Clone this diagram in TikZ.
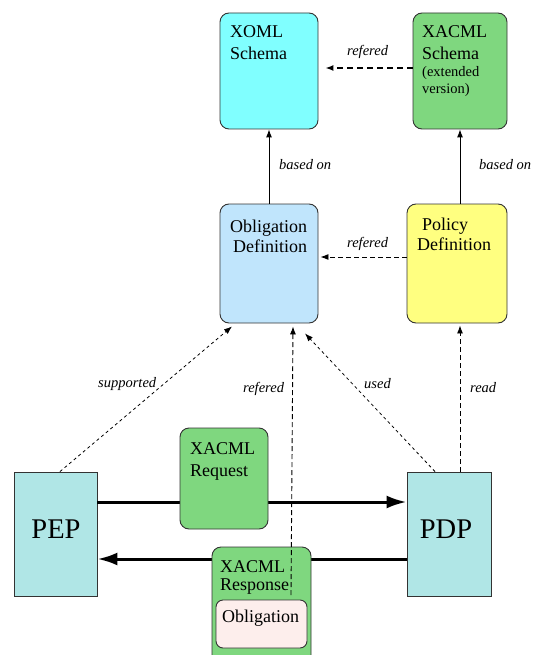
\documentclass[tikz,border=0pt]{standalone}
\usepackage{fontspec}
\setmainfont{Liberation Serif}
\usetikzlibrary{arrows.meta}
\definecolor{xomlC}{HTML}{80FFFF}
\definecolor{greenC}{HTML}{7FD77F}
\definecolor{oblC}{HTML}{C0E5FC}
\definecolor{polC}{HTML}{FFFF80}
\definecolor{pepC}{HTML}{B0E6E6}
\definecolor{obligC}{HTML}{FDEEEC}
\definecolor{edgeC}{HTML}{333333}
\tikzset{
  box/.style={draw=edgeC, line width=0.9pt, rounded corners=9pt, inner sep=0pt},
  sqbox/.style={draw=edgeC, line width=0.9pt, inner sep=0pt},
  btxt/.style={anchor=base west, inner sep=0pt, font=\fontsize{18}{21}\selectfont},
  stxt/.style={anchor=base west, inner sep=0pt, font=\fontsize{14.5}{17}\selectfont},
  lbl/.style={anchor=base west, inner sep=0pt, font=\fontsize{14.5}{16}\selectfont\itshape},
  thin/.style={line width=0.9pt, -{Latex[length=8pt,width=6pt]}},
  dsh/.style={line width=0.9pt, dash pattern=on 5pt off 3pt, -{Latex[length=8pt,width=6pt]}},
  fdsh/.style={line width=0.8pt, dash pattern=on 3pt off 3pt, -{Latex[length=8pt,width=6pt]}},
  thick/.style={line width=3pt, -{Latex[length=20pt,width=13pt]}},
}
\begin{document}
\begin{tikzpicture}[x=1pt,y=-1pt]
\useasboundingbox (0,0) rectangle (535,655);
\clip (0,0) rectangle (535,655);
% boxes
\node[box, fill=xomlC, minimum width=98pt, minimum height=116pt] (xoml) at (269,71) {};
\node[box, fill=greenC, minimum width=94pt, minimum height=116pt] (xacmlS) at (460,71) {};
\node[box, fill=oblC, minimum width=98pt, minimum height=119pt] (obl) at (269,263.5) {};
\node[box, fill=polC, minimum width=100pt, minimum height=119pt] (pol) at (457,263.5) {};
\node[sqbox, fill=pepC, minimum width=83pt, minimum height=124pt] (pep) at (55.5,534) {};
\node[sqbox, fill=pepC, minimum width=84pt, minimum height=124pt] (pdp) at (449,534) {};
% thick message arrows (behind the message boxes)
\draw[thick] ([yshift=32pt]pep.east) -- ([yshift=32pt]pdp.west);
\draw[thick] ([yshift=-25pt]pdp.west) -- ([yshift=-25pt]pep.east);
\node[box, fill=greenC, minimum width=88pt, minimum height=101pt] (req) at (224,478.5) {};
\node[box, fill=greenC, minimum width=99pt, minimum height=123pt] (resp) at (261.5,608.5) {};
\node[box, rounded corners=7pt, fill=obligC, minimum width=91pt, minimum height=48pt] (oblig) at (261.5,624) {};
% texts
\node[btxt] (t1) at (230,38) {XOML};
\node[btxt] (t2) at (230,60) {Schema};
\node[btxt] (t3) at (422,38) {XACML};
\node[btxt] (t4) at (422,60) {Schema};
\node[stxt] (t5) at (422,77) {(extended};
\node[stxt] (t6) at (422,94) {version)};
\node[btxt] (t7) at (230,232) {Obligation};
\node[btxt] (t8) at (233,252) {Definition};
\node[btxt] (t9) at (422,230) {Policy};
\node[btxt] (t10) at (417,250) {Definition};
\node[btxt] (t11) at (190,454) {XACML};
\node[btxt] (t12) at (190,476) {Request};
\node[btxt] (t13) at (220,572) {XACML};
\node[btxt] (t14) at (220,590) {Response};
\node[btxt] (t15) at (222,622) {Obligation};
\node[anchor=base, inner sep=0pt, font=\fontsize{28.5}{30}\selectfont] (t16) at (56,538) {PEP};
\node[anchor=base, inner sep=0pt, font=\fontsize{28.5}{30}\selectfont] (t17) at (446,538) {PDP};
% connectors
\draw[line width=1.5pt, dash pattern=on 6pt off 4pt, -{Latex[length=8pt,width=6pt]}] ([yshift=3pt]xacmlS.west) -- ([xshift=7pt,yshift=3pt]xoml.east);
\draw[thin] (obl.north) -- (xoml.south);
\draw[thin] (xacmlS.south |- pol.north) -- (xacmlS.south);
\draw[dsh] ([yshift=6.5pt]pol.west) -- ([xshift=2pt,yshift=6.5pt]obl.east);
\draw[fdsh] ([xshift=4.5pt]pep.north) -- ([xshift=-37pt,yshift=-3pt]obl.south);
\draw[fdsh] ([xshift=-14pt]pdp.north) -- ([xshift=36pt,yshift=-10pt]obl.south);
\draw[dsh] ([xshift=11pt]pdp.north) -- ([xshift=3pt,yshift=-2pt]pol.south);
\coordinate (refStart) at (291,595);
\draw[dsh] (refStart) -- ([xshift=24pt,yshift=-3pt]obl.south);
% labels
\node[lbl] (l1) at (347,56) {refered};
\node[lbl] (l2) at (279,169) {based on};
\node[lbl] (l3) at (479,169) {based on};
\node[lbl] (l4) at (347,247) {refered};
\node[lbl] (l5) at (98,387) {supported};
\node[lbl] (l6) at (243,392) {refered};
\node[lbl] (l7) at (364,388) {used};
\node[lbl] (l8) at (470,392) {read};
\end{tikzpicture}
\end{document}
